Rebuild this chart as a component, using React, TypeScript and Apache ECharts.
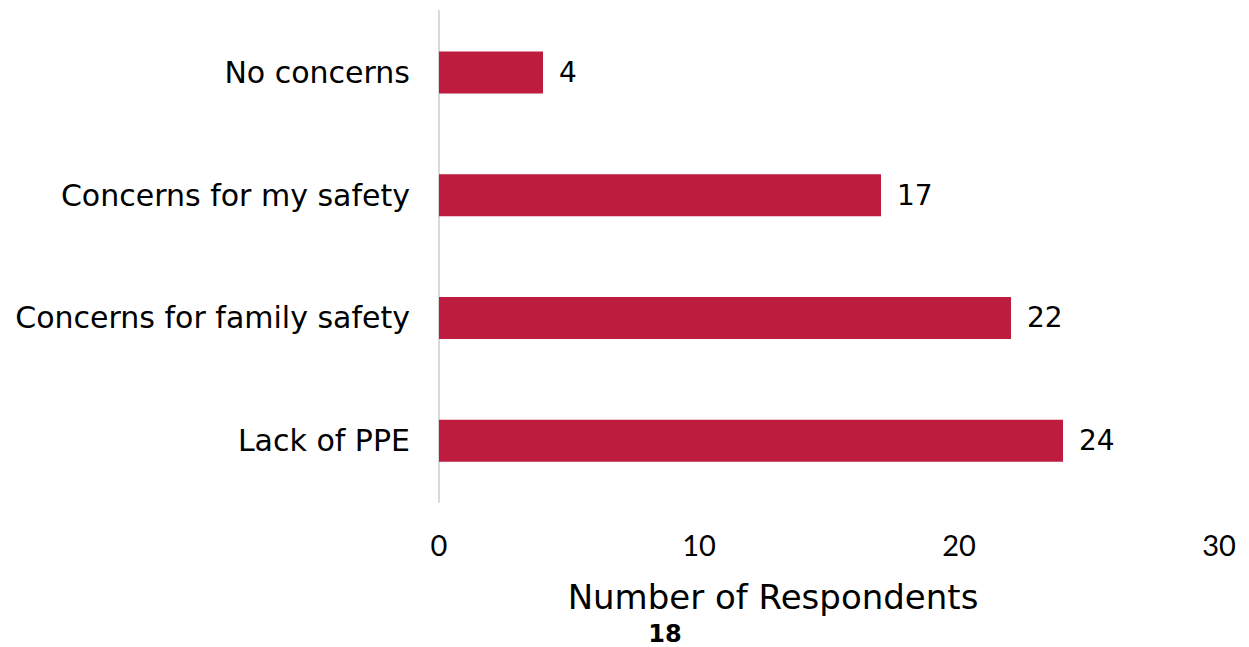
import React, { useEffect, useRef } from "react";
import * as echarts from "echarts";

const categories = ["Lack of PPE", "Concerns for family safety", "Concerns for my safety", "No concerns"];
const values = [24, 22, 17, 4];
const xTicks = [0, 10, 20, 30];
const axisTitle = "Number of Respondents";
const pageNumber = "18";

const FONT = "'DejaVu Sans', sans-serif";
const TICKFONT = "Lato, sans-serif";

export default function App() {
  const ref = useRef<HTMLDivElement>(null);
  useEffect(() => {
    if (!ref.current) return;
    const chart = echarts.init(ref.current, null, { renderer: "svg" });
    chart.setOption({
      animation: false,
      backgroundColor: "#ffffff",
      grid: { left: 439, right: 30, top: 11, bottom: 145, containLabel: false },
      xAxis: {
        type: "value",
        min: xTicks[0],
        max: xTicks[xTicks.length - 1],
        interval: 10,
        axisLine: { show: false },
        axisTick: { show: false },
        splitLine: { show: false },
        axisLabel: { fontSize: 29, color: "#000", fontFamily: TICKFONT, margin: 28 },
      },
      yAxis: {
        type: "category",
        data: categories,
        axisLine: { show: true, lineStyle: { color: "#d9d9d9", width: 2 } },
        axisTick: { show: false },
        axisLabel: { fontSize: 30, color: "#000", fontFamily: FONT, margin: 29 },
      },
      series: [
        {
          type: "bar",
          data: values,
          barWidth: 42,
          itemStyle: { color: "#BE1C3F" },
          label: {
            show: true,
            position: "right",
            distance: 16,
            fontSize: 28,
            color: "#000",
            fontFamily: FONT,
          },
        },
      ],
      graphic: [
        {
          type: "text",
          x: 773,
          y: 597,
          style: {
            text: axisTitle,
            fontSize: 34,
            fill: "#000",
            fontFamily: FONT,
            align: "center",
            verticalAlign: "middle",
          },
        },
        {
          type: "text",
          x: 665,
          y: 634,
          style: {
            text: pageNumber,
            fontSize: 24,
            fontWeight: "bold",
            fill: "#000",
            fontFamily: FONT,
            align: "center",
            verticalAlign: "middle",
          },
        },
      ],
    });
    return () => chart.dispose();
  }, []);
  return <div ref={ref} style={{ position: "fixed", left: 0, top: 0, width: 1249, height: 647 }} />;
}
